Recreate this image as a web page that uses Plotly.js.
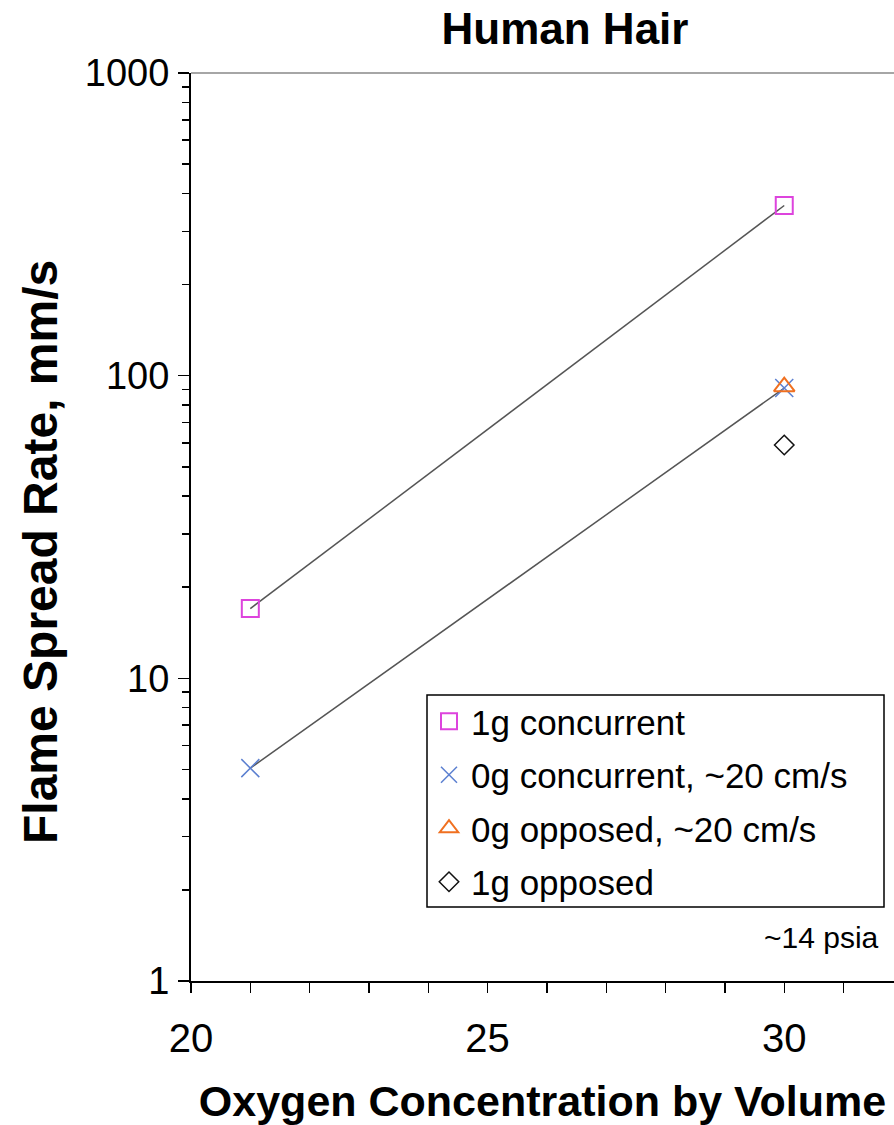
<!DOCTYPE html>
<html>
<head>
<meta charset="utf-8">
<script src="https://cdn.plot.ly/plotly-3.0.1.min.js"></script>
<style>html,body{margin:0;padding:0;background:#fff;overflow:hidden}#chart{width:894px;height:1125px}</style>
</head>
<body>
<div id="chart"></div>
<script>
// Data
const oxygen = [21, 30];
const concurrent1g = [17, 365];
const concurrent0g = [5.05, 91];
const opposedX0g = [30];
const opposed0g = [92];
const opposedX1g = [30];
const opposed1g = [59];

const seriesNames = ["1g concurrent", "0g concurrent, ~20 cm/s", "0g opposed, ~20 cm/s", "1g opposed"];
const yTickVals = [1, 10, 100, 1000];
const yTickText = ["1", "10", "100", "1000"];
const yMinorVals = [2,3,4,5,6,7,8,9,20,30,40,50,60,70,80,90,200,300,400,500,600,700,800,900];
const xTickVals = [20, 25, 30];

const FONT = "Liberation Sans, Arial, Helvetica, sans-serif";
const lineColor = "#555555";

const traces = [
  {x: oxygen, y: concurrent1g, mode: "lines", line: {color: lineColor, width: 1.5}, showlegend: false, hoverinfo: "skip"},
  {x: oxygen, y: concurrent0g, mode: "lines", line: {color: lineColor, width: 1.5}, showlegend: false, hoverinfo: "skip"},
  {x: oxygen, y: concurrent1g, name: seriesNames[0], mode: "markers", legendgroup: "a",
   marker: {symbol: "square-open", size: 17, color: "#dd44dd", line: {width: 2, color: "#dd44dd"}}},
  {x: oxygen, y: concurrent0g, name: seriesNames[1], mode: "markers", legendgroup: "b",
   marker: {symbol: "x-thin-open", size: 18, color: "#5b7fd0", line: {width: 1.5, color: "#5b7fd0"}}},
  {x: opposedX0g, y: opposed0g, name: seriesNames[2], mode: "markers", legendgroup: "c",
   marker: {symbol: "triangle-up-open", size: 18, color: "#f07020", line: {width: 2, color: "#f07020"}}},
  {x: opposedX1g, y: opposed1g, name: seriesNames[3], mode: "markers", legendgroup: "d",
   marker: {symbol: "diamond-open", size: 15, color: "#111111", line: {width: 1.5, color: "#111111"}}}
];

// legend frame in pixels (converted to paper fractions)
const plotL = 191, plotW = 703, plotB = 981, plotH = 908;
const px = v => (v - plotL) / plotW;
const py = v => (plotB - v) / plotH;

const layout = {
  width: 894, height: 1125,
  margin: {l: 191, r: 0, t: 73, b: 144},
  paper_bgcolor: "#ffffff", plot_bgcolor: "#ffffff",
  font: {family: FONT, color: "#000", size: 30},
  showlegend: true,
  title: {text: "<b>Human Hair</b>", font: {family: FONT, size: 44, color: "#000"},
          x: 565/894, xanchor: "center", xref: "container", y: 1 - 29/1125, yanchor: "middle", yref: "container"},
  xaxis: {
    type: "linear", range: [20, 31.85], fixedrange: true,
    tickvals: xTickVals, ticks: "outside", ticklen: 10, tickwidth: 1.5, tickcolor: "#000",
    ticklabelstandoff: 11,
    minor: {dtick: 1, ticks: "outside", ticklen: 10, tickwidth: 1.5, tickcolor: "#000", showgrid: false},
    showline: true, linecolor: "#000", linewidth: 2, showgrid: false, zeroline: false,
    tickfont: {family: FONT, size: 40, color: "#000"},
    title: {text: "<b>Oxygen Concentration by Volume</b>", font: {family: FONT, size: 43, color: "#000"}, standoff: 32},
    automargin: false
  },
  yaxis: {
    type: "log", range: [0, 3], fixedrange: true,
    tickvals: yTickVals, ticktext: yTickText, ticks: "outside", ticklen: 11, tickwidth: 1.5, tickcolor: "#000",
    ticklabelstandoff: 1,
    minor: {tickvals: yMinorVals, ticks: "outside", ticklen: 7, tickwidth: 1.5, tickcolor: "#000", showgrid: false},
    showline: true, linecolor: "#000", linewidth: 2, showgrid: false, zeroline: false,
    tickfont: {family: FONT, size: 38, color: "#000"},
    automargin: false
  },
  legend: {
    x: px(427), xanchor: "left", xref: "paper",
    y: py(692), yanchor: "top", yref: "paper",
    bgcolor: "rgba(0,0,0,0)", borderwidth: 0,
    font: {family: FONT, size: 35, color: "#000"},
    traceorder: "grouped", tracegroupgap: 5, itemsizing: "trace", itemwidth: 34
  },
  shapes: [
    {type: "line", xref: "paper", yref: "paper", x0: 0, x1: 1, y0: 1, y1: 1, line: {color: "#888888", width: 1.5}},
    {type: "rect", xref: "paper", yref: "paper", x0: px(427), x1: px(884), y0: py(907), y1: py(695),
     line: {color: "#000", width: 1.5}, fillcolor: "#ffffff", layer: "above"}
  ],
  annotations: [
    {text: "<b>Flame Spread Rate, mm/s</b>", textangle: -90, xref: "paper", yref: "paper",
     x: 0, xshift: -151, y: (981 - 552) / 908, xanchor: "center", yanchor: "middle", showarrow: false,
     font: {family: FONT, size: 48, color: "#000"}},
    {text: "~14 psia", xref: "paper", yref: "paper", x: (881 - 191) / 703, y: (981 - 937) / 908,
     xanchor: "right", yanchor: "middle", showarrow: false, font: {family: FONT, size: 30, color: "#000"}}
  ]
};

Plotly.newPlot("chart", traces, layout, {displayModeBar: false, staticPlot: true});
</script>
</body>
</html>
